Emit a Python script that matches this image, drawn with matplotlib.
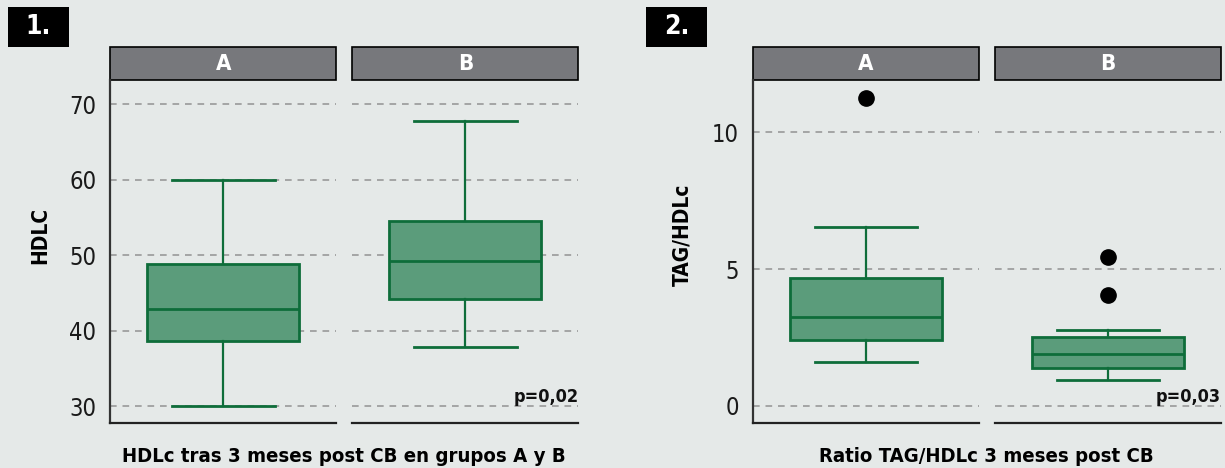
import matplotlib.pyplot as plt
from matplotlib.patches import Rectangle

# panel 1: HDLc (five-number summary per group)
hdl_groups = ["A", "B"]
hdl_whislo = [30.0, 37.8]
hdl_q1 = [38.7, 44.2]
hdl_med = [42.9, 49.3]
hdl_q3 = [48.9, 54.5]
hdl_whishi = [60.0, 67.8]
hdl_fliers = [[], []]
hdl_ticks = [30, 40, 50, 60, 70]

# panel 2: TAG/HDLc ratio
tag_groups = ["A", "B"]
tag_whislo = [1.60, 0.94]
tag_q1 = [2.40, 1.38]
tag_med = [3.25, 1.88]
tag_q3 = [4.66, 2.52]
tag_whishi = [6.55, 2.77]
tag_fliers = [[11.24], [5.43, 4.06]]
tag_ticks = [0, 5, 10]

bg = "#e5e9e8"
fill = "#5b9c7b"
edge = "#0e6d3a"
strip = "#77787c"

plt.rcParams["font.family"] = ["DejaVu Sans"]
plt.rcParams["font.stretch"] = "condensed"

fig = plt.figure(figsize=(12.25, 4.68), dpi=100)
fig.patch.set_facecolor(bg)

W = 1225.0
H = 468.0


def draw_panel(x0, groups, lo, q1, med, q3, hi, fliers, ticks, ylim, ylabel, ylab_x, xlabel, ptext, badge, badge_x):
    pw = 226.2
    gap = 15.8
    for i, g in enumerate(groups):
        left = (x0 + i * (pw + gap)) / W
        ax = fig.add_axes([left, (H - 423.3) / H, pw / W, (423.3 - 80) / H])
        ax.set_facecolor(bg)
        stats = [dict(whislo=lo[i], q1=q1[i], med=med[i], q3=q3[i], whishi=hi[i], fliers=fliers[i])]
        ax.bxp(stats, positions=[0], widths=0.673, patch_artist=True, showfliers=True,
               boxprops=dict(facecolor=fill, edgecolor=edge, linewidth=2.0),
               medianprops=dict(color=edge, linewidth=2.0),
               whiskerprops=dict(color=edge, linewidth=1.6),
               capprops=dict(color=edge, linewidth=2.0),
               capwidths=0.453,
               flierprops=dict(marker="o", markerfacecolor="black", markeredgecolor="black", markersize=11))
        ax.set_xlim(-0.5, 0.5)
        ax.set_ylim(*ylim)
        ax.set_xticks([])
        ax.set_yticks(ticks)
        ax.yaxis.grid(True, linestyle=(0, (4, 3.5)), color="#999999", linewidth=1.2)
        ax.set_axisbelow(True)
        for s in ["top", "right"]:
            ax.spines[s].set_visible(False)
        ax.spines["bottom"].set_color("#222222")
        ax.spines["bottom"].set_linewidth(1.6)
        if i == 0:
            ax.spines["left"].set_color("#333333")
            ax.spines["left"].set_linewidth(1.6)
            ax.tick_params(axis="y", length=0, labelsize=17, pad=10, labelcolor="#1a1a1a")
        else:
            ax.spines["left"].set_visible(False)
            ax.tick_params(axis="y", length=0, labelleft=False)
        # strip header
        ax.add_patch(Rectangle((0, 1.0), 1, 33.0 / (423.3 - 80), transform=ax.transAxes,
                               facecolor=strip, edgecolor="black", linewidth=1.2, clip_on=False))
        ax.text(0.5, 1.0 + 16.5 / (423.3 - 80), g, transform=ax.transAxes, ha="center", va="center",
                color="white", fontsize=16, fontweight="bold")
        if i == len(groups) - 1:
            ax.text(1.0, ticks[0], ptext, transform=ax.get_yaxis_transform(), ha="right", va="bottom",
                    fontsize=13, fontweight="bold", color="#111111")
    fig.text(ylab_x / W, (H - 235) / H, ylabel, rotation=90, ha="center", va="center",
             fontsize=15, fontweight="bold")
    fig.text((x0 + pw + gap / 2) / W, (H - 456) / H, xlabel, ha="center", va="center",
             fontsize=14.6, fontweight="bold")
    fig.patches.append(Rectangle((badge_x / W, (H - 47) / H), 61.0 / W, 40.0 / H,
                                 transform=fig.transFigure, facecolor="black", edgecolor="none"))
    fig.text((badge_x + 30.5) / W, (H - 27) / H, badge, ha="center", va="center",
             color="white", fontsize=19, fontweight="bold")


draw_panel(110.2, hdl_groups, hdl_whislo, hdl_q1, hdl_med, hdl_q3, hdl_whishi, hdl_fliers,
           hdl_ticks, (27.75, 73.2), "HDLC", 40, "HDLc tras 3 meses post CB en grupos A y B",
           "p=0,02", "1.", 8)
draw_panel(752.7, tag_groups, tag_whislo, tag_q1, tag_med, tag_q3, tag_whishi, tag_fliers,
           tag_ticks, (-0.64, 11.91), "TAG/HDLc", 682, "Ratio TAG/HDLc 3 meses post CB",
           "p=0,03", "2.", 646)

fig.savefig("out.png", dpi=100, facecolor=bg)
